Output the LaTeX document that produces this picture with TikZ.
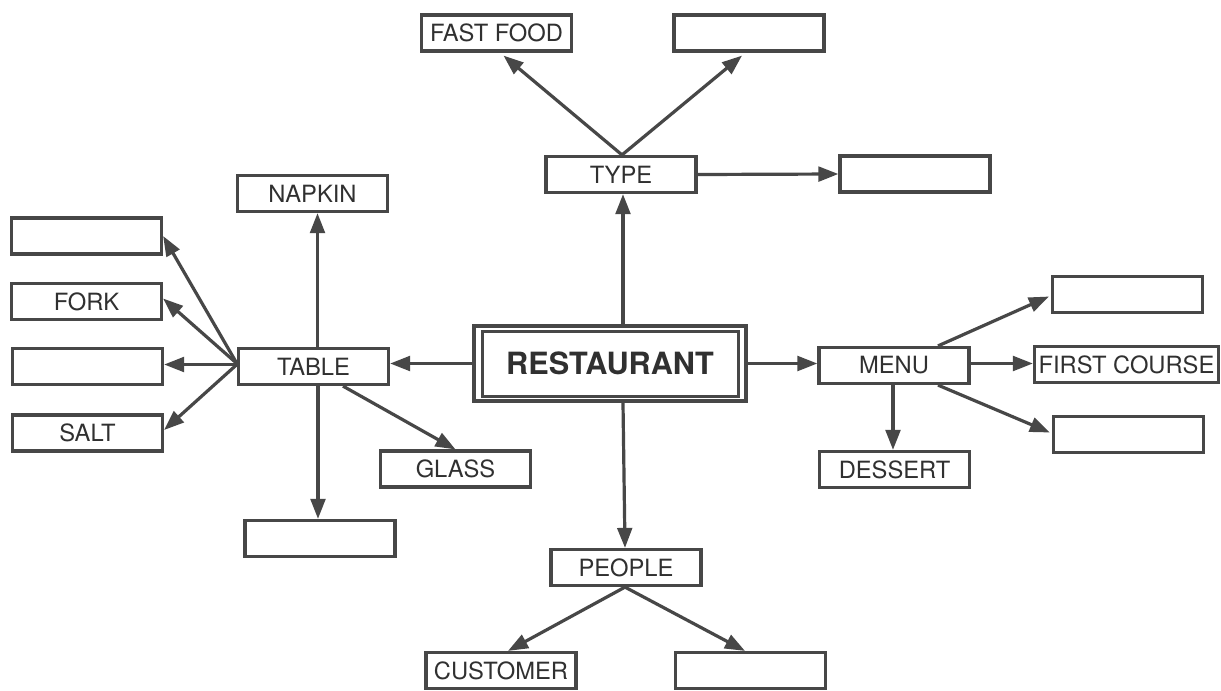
\documentclass[tikz,border=0pt]{standalone}
\usepackage{fontspec}
\setmainfont{TeX Gyre Heros}
\usetikzlibrary{arrows.meta,calc}
\definecolor{ink}{HTML}{474747}
\definecolor{txt}{HTML}{303030}
\begin{document}
\begin{tikzpicture}[x=0.75pt,y=-0.75pt,
  box/.style={draw=ink, line width=2.4pt, fill=white, minimum width=112.5pt,
    minimum height=27pt, inner sep=0pt, text=txt, font=\fontsize{17.8}{20}\selectfont},
  mainbox/.style={draw=ink, line width=3.2pt, fill=white, minimum width=204pt,
    minimum height=56.25pt, inner sep=0pt, text=txt, font=\fontsize{23}{26}\selectfont\bfseries},
  arr/.style={draw=ink, line width=2.4pt, -{Triangle[length=15pt,width=11pt]}}]
\fill[white] (0,0) rectangle (1221,690);
\useasboundingbox (0,0) rectangle (1221,690);

% central
\node[mainbox] (rest) at (610,363.5) {RESTAURANT};
\draw[ink, line width=2.4pt] ($(rest.north west)+(10.5,7.5)$) rectangle ($(rest.south east)+(-9.5,-6.5)$);

% top
\node[box] (type) at (621,174.5) {TYPE};
\node[box] (fastfood) at (496.5,33) {FAST FOOD};
\node[box] (topblank) at (749,33) {};
\node[box] (typeblank) at (915,174) {};

% left
\node[box] (table) at (313.5,366.5) {TABLE};
\node[box] (napkin) at (312.5,193.5) {NAPKIN};
\node[box] (lblankA) at (86.5,236) {};
\node[box] (fork) at (86.5,301.5) {FORK};
\node[box] (lblankB) at (87.5,366.5) {};
\node[box] (salt) at (87.5,433) {SALT};
\node[box] (glass) at (455.5,469) {GLASS};
\node[box] (tblank) at (320,538.5) {};

% right
\node[box] (menu) at (894,365.5) {MENU};
\node[box] (mblankA) at (1127.5,294.5) {};
\node[box, minimum width=138pt] (first) at (1126.5,364.5) {FIRST COURSE};
\node[box] (mblankB) at (1128.5,434.5) {};
\node[box] (dessert) at (894.5,469.5) {DESSERT};

% bottom
\node[box] (people) at (626,567.5) {PEOPLE};
\node[box] (customer) at (501,670.5) {CUSTOMER};
\node[box] (pblank) at (750.5,670.5) {};

% connectors from the centre
\draw[arr] ($(rest.north)+(13,0)$) -- ($(type.south)+(2,0)$);
\draw[arr] (rest.west) -- (table.east |- rest.west);
\draw[arr] (rest.east) -- (menu.west |- rest.east);
\draw[arr] ($(rest.south)+(13,0)$) -- ($(people.north)+(-1,0)$);

% type
\draw[arr] ($(type.north)+(1,0)$) -- ($(fastfood.south)+(7,3)$);
\draw[arr] ($(type.north)+(1,0)$) -- ($(topblank.south)+(-7,3)$);
\draw[arr] (type.east) -- (typeblank.west);

% table
\draw[arr] ($(table.north)+(4,0)$) -- ($(napkin.south)+(5,0)$);
\draw[arr] ($(table.west)+(0,-3)$) -- (lblankA.east);
\draw[arr] ($(table.west)+(0,-3)$) -- ($(fork.east)+(0,-3)$);
\draw[arr] ($(table.west)+(0,-2)$) -- ($(lblankB.east)+(0,-2)$);
\draw[arr] ($(table.west)+(0,-2)$) -- ($(salt.east)+(0,-3)$);
\draw[arr] ($(table.south)+(4.5,0)$) -- ($(tblank.north)+(-2,0)$);
\draw[arr] ($(table.south)+(29.5,0)$) -- (glass.north);

% menu
\draw[arr] ($(menu.north)+(44,0)$) -- ($(mblankA.west)+(-2,2)$);
\draw[arr] ($(menu.east)+(0,-2)$) -- ($(first.west)+(0,-1)$);
\draw[arr] ($(menu.south)+(44,0)$) -- ($(mblankB.west)+(-2,-2)$);
\draw[arr] ($(menu.south)+(-1,0)$) -- ($(dessert.north)+(-1.5,0)$);

% people
\draw[arr] ($(people.south)+(-1,0)$) -- ($(customer.north)+(7,0)$);
\draw[arr] ($(people.south)+(-1,0)$) -- ($(pblank.north)+(-5.5,0)$);
\end{tikzpicture}
\end{document}
